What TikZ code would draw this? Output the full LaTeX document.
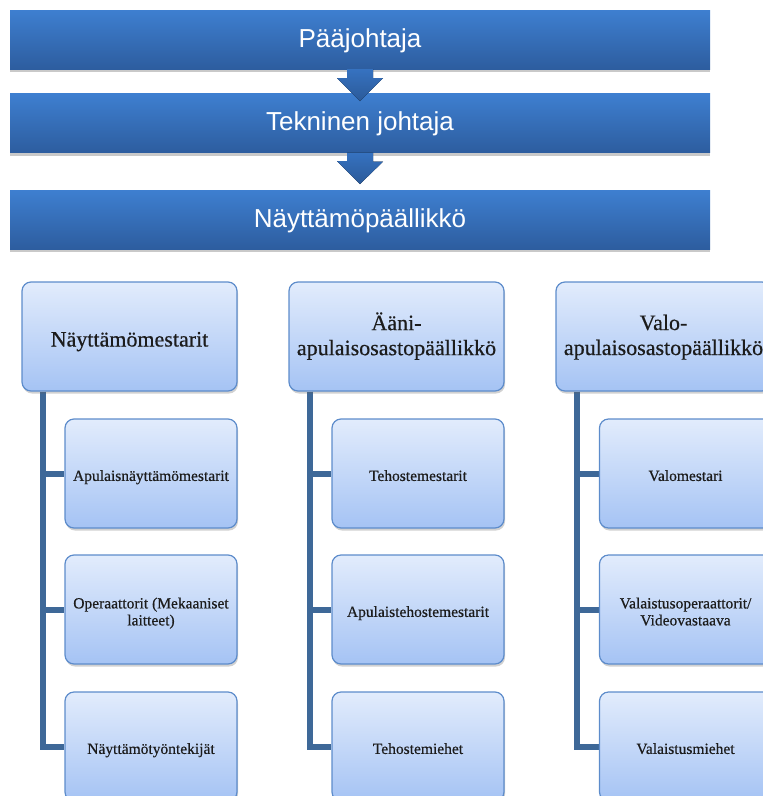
\documentclass[tikz,border=0pt]{standalone}
\usepackage{fontspec}
\setmainfont[FakeBold=0.5]{Liberation Serif}
\newfontfamily\barfont{Liberation Sans}
\usetikzlibrary{shadows}

\definecolor{barTop}{HTML}{3E7FD0}
\definecolor{barBot}{HTML}{2D5D9F}
\definecolor{arrTop}{HTML}{3672C0}
\definecolor{arrBot}{HTML}{2B5A99}
\definecolor{boxTop}{HTML}{E2ECFC}
\definecolor{boxBot}{HTML}{A5C3F4}
\definecolor{boxLine}{HTML}{5D8CCB}
\definecolor{connLine}{HTML}{3E6898}
\definecolor{boxText}{HTML}{1C1C1C}

\pgfdeclarelayer{lines}
\pgfsetlayers{lines,main}

% centred text block lowered by #1 without changing its box
\newcommand\lowered[2]{\raisebox{-#1}[\height][\depth]{\begin{tabular}{@{}c@{}}#2\end{tabular}}}

\tikzset{
  bar/.style={rectangle, minimum width=700pt, minimum height=59pt, inner sep=0pt,
    top color=barTop, bottom color=barBot, text=white,
    font=\barfont\fontsize{26}{30}\selectfont,
    drop shadow={shadow xshift=0pt, shadow yshift=-3pt, opacity=.3, fill=black!70}},
  downarrow/.style={top color=arrTop, bottom color=arrBot},
  headbox/.style={rectangle, rounded corners=9pt, minimum width=215pt, minimum height=109pt,
    inner sep=2pt, draw=boxLine, line width=1.2pt, top color=boxTop, bottom color=boxBot,
    text=boxText, font=\fontsize{22}{25}\selectfont,
    drop shadow={shadow xshift=1pt, shadow yshift=-2.5pt, opacity=.3, fill=black!60}},
  subbox/.style={headbox, minimum width=172pt, font=\fontsize{15.5}{17}\selectfont},
  conn/.style={draw=connLine, line width=6pt}
}

\begin{document}
\begin{tikzpicture}[x=1pt, y=-1pt]
\useasboundingbox (0,0) rectangle (763,796);
\clip (0,0) rectangle (763,796);

% chain of command along the top
\node[bar] (b1) at (360,39.5) {\lowered{1.5pt}{Pääjohtaja}};
\node[bar] (b2) at (360,123) {\lowered{1.5pt}{Tekninen johtaja}};
\node[bar] (b3) at (360,219.5) {\lowered{1.5pt}{Näyttämöpäällikkö}};

% block arrows between the bars
\coordinate (t1) at (360,101);
\coordinate (t2) at (360,184);
\fill[downarrow] (b1.south) ++(-13,0) -- ++(26,0) -- ++(0,9) -- ++(10,0) -- (t1)
  -- ++(-23,-23) -- ++(10,0) -- cycle;
\fill[downarrow] (b2.south) ++(-13,0) -- ++(26,0) -- ++(0,9) -- ++(10,0) -- (t2)
  -- ++(-23,-23) -- ++(10,0) -- cycle;

% three departments
\node[headbox] (h1) at (129.5,336.5) {\lowered{5pt}{Näyttämömestarit}};
\node[headbox] (h2) at (396.5,336.5) {\lowered{1pt}{Ääni-\\apulaisosastopäällikkö}};
\node[headbox] (h3) at (663.5,336.5) {\lowered{1pt}{Valo-\\apulaisosastopäällikkö}};

\node[subbox] (c11) at (151,473.5) {\lowered{4pt}{Apulaisnäyttämömestarit}};
\node[subbox] (c12) at (151,609.5) {\lowered{4pt}{Operaattorit (Mekaaniset\\laitteet)}};
\node[subbox] (c13) at (151,746.5) {\lowered{4pt}{Näyttämötyöntekijät}};

\node[subbox] (c21) at (418,473.5) {\lowered{4pt}{Tehostemestarit}};
\node[subbox] (c22) at (418,609.5) {\lowered{4pt}{Apulaistehostemestarit}};
\node[subbox] (c23) at (418,746.5) {\lowered{4pt}{Tehostemiehet}};

\node[subbox] (c31) at (685.5,473.5) {\lowered{4pt}{Valomestari}};
\node[subbox] (c32) at (685.5,609.5) {\lowered{4pt}{Valaistusoperaattorit/\\Videovastaava}};
\node[subbox] (c33) at (685.5,746.5) {\lowered{4pt}{Valaistusmiehet}};

% tree lines from each department head to its staff
\begin{pgfonlayer}{lines}
\foreach \col in {1,2,3}{
  \draw[conn] ([xshift=21.5pt]h\col.south west) |- (c\col3.west);
  \draw[conn] ([xshift=21.5pt]h\col.south west) |- (c\col1.west);
  \draw[conn] ([xshift=21.5pt]h\col.south west) |- (c\col2.west);
}
\end{pgfonlayer}
\end{tikzpicture}
\end{document}
